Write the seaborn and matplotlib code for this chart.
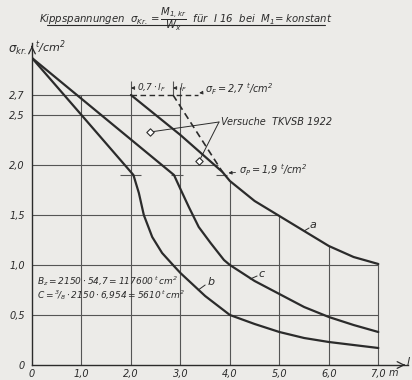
import numpy as np
import matplotlib
matplotlib.use("Agg")
import matplotlib.pyplot as plt
import seaborn as sns

# curve a (plastic straight part from sigma_F, then elastic branch)
x_a = [2.0, 3.0, 3.85, 4.0, 4.5, 5.0, 5.5, 6.0, 6.5, 7.0]
y_a = [2.70, 2.30, 1.93, 1.84, 1.64, 1.49, 1.34, 1.19, 1.08, 1.01]

# curve b
x_b = [0.0, 1.0, 2.05, 2.16, 2.26, 2.43, 2.63, 2.85, 3.0, 3.5, 4.0, 4.5, 5.0, 5.5, 6.0, 6.5, 7.0]
y_b = [3.07, 2.50, 1.90, 1.72, 1.50, 1.28, 1.12, 1.00, 0.92, 0.69, 0.50, 0.41, 0.33, 0.27, 0.23, 0.20, 0.17]

# curve c
x_c = [0.0, 2.87, 3.0, 3.17, 3.37, 3.61, 3.88, 4.0, 4.5, 5.0, 5.5, 6.0, 6.5, 7.0]
y_c = [3.07, 1.90, 1.76, 1.58, 1.38, 1.22, 1.05, 1.00, 0.84, 0.71, 0.58, 0.48, 0.40, 0.33]

# dashed line from l_F
x_f = [2.85, 3.85]
y_f = [2.70, 1.93]

# tests TKVSB 1922
x_test = [2.39, 3.38]
y_test = [2.33, 2.04]

x_ticks = [0, 1, 2, 3, 4, 5, 6, 7]
x_labels = ["0", "1,0", "2,0", "3,0", "4,0", "5,0", "6,0", "7,0"]
y_ticks = [0, 0.5, 1.0, 1.5, 2.0, 2.5, 2.7]
y_labels = ["0", "0,5", "1,0", "1,5", "2,0", "2,5", "2,7"]

sigma_F = 2.7
sigma_P = 1.9

INK = "#2b2b2b"
GRID = "#555555"
BG = "#ecebe8"

sns.set_theme(style="white", rc={"axes.facecolor": BG, "figure.facecolor": BG})
plt.rcParams["font.family"] = ["DejaVu Sans"]
plt.rcParams["mathtext.fontset"] = "custom"
plt.rcParams["mathtext.rm"] = "DejaVu Sans:italic"
plt.rcParams["mathtext.it"] = "DejaVu Sans:italic"
plt.rcParams["mathtext.bf"] = "DejaVu Sans:italic:bold"

fig = plt.figure(figsize=(4.12, 3.8), dpi=100)
ax = fig.add_axes([32 / 412, 15 / 380, 376 / 412, 322 / 380])
ax.set_xlim(0, 7.6)
ax.set_ylim(0, 3.22)

# grid, cut off at the upper curves like the drawing
a_at = lambda x: float(np.interp(x, x_a, y_a))
gw = 0.8
ax.hlines(2.7, 0, 2.0, color=GRID, lw=gw)
ax.hlines(2.5, 0, 3.0, color=GRID, lw=gw)
ax.hlines(2.0, 0, 3.75, color=GRID, lw=gw)
ax.hlines(1.5, 0, 5.0, color=GRID, lw=gw)
ax.hlines([1.0, 0.5], 0, 7.0, color=GRID, lw=gw)
ax.vlines(1.0, 0, 2.7, color=GRID, lw=gw)
ax.vlines(2.0, 0, 2.84, color=GRID, lw=gw)
ax.vlines(3.0, 0, 2.78, color=GRID, lw=gw)
ax.vlines(2.85, 2.7, 2.84, color=GRID, lw=gw)
for xv in [4.0, 5.0, 6.0, 7.0]:
    ax.vlines(xv, 0, a_at(xv), color=GRID, lw=gw)

# short marks at sigma_P
ax.hlines(sigma_P, 1.78, 2.2, color=GRID, lw=gw)
ax.hlines(sigma_P, 2.8, 3.06, color=GRID, lw=gw)
ax.hlines(sigma_P, 3.72, 3.95, color=GRID, lw=gw)

# sigma_F dashed level
ax.hlines(sigma_F, 2.0, 3.35, color=INK, lw=1.0, linestyles=(0, (4, 2.5)))

for xs, ys in [(x_a, y_a), (x_b, y_b), (x_c, y_c)]:
    sns.lineplot(x=xs, y=ys, ax=ax, color=INK, lw=1.6, sort=False, estimator=None)
sns.lineplot(x=x_f, y=y_f, ax=ax, color=INK, lw=1.2, sort=False, estimator=None,
             linestyle=(0, (4, 2.5)))

# test points with leader lines
for xt, yt in zip(x_test, y_test):
    ax.plot([xt, 3.78], [yt, 2.43], color=INK, lw=0.7)
sns.scatterplot(x=x_test, y=y_test, ax=ax, marker="D", s=14, color="white",
                edgecolor=INK, linewidth=0.8, zorder=5)

tk = dict(fontsize=7, style="italic", color=INK)
ax.text(3.82, 2.43, "Versuche  TKVSB 1922", ha="left", va="center", **tk)

arrow = dict(arrowstyle="-|>", color=INK, lw=0.6, mutation_scale=5, shrinkA=0, shrinkB=0)
ax.annotate(r"$0{,}7\cdot l_F$", xy=(2.0, 2.77), xytext=(2.12, 2.77),
            ha="left", va="center", arrowprops=arrow, fontsize=6.5, color=INK)
ax.annotate(r"$l_F$", xy=(2.85, 2.77), xytext=(2.97, 2.77),
            ha="left", va="center", arrowprops=arrow, fontsize=6.5, color=INK)
ax.annotate(r"$\sigma_F = 2{,}7\ ^{t}/cm^2$", xy=(3.38, 2.72), xytext=(3.5, 2.76),
            ha="left", va="center", arrowprops=arrow, fontsize=7, color=INK)
ax.annotate(r"$\sigma_P = 1{,}9\ ^{t}/cm^2$", xy=(3.97, 1.92), xytext=(4.18, 1.95),
            ha="left", va="center", arrowprops=arrow, fontsize=7, color=INK)

# curve names
ax.plot([5.5, 5.6], [a_at(5.5), 1.37], color=INK, lw=0.7)
ax.text(5.62, 1.40, "a", ha="left", va="center", fontsize=8, style="italic", color=INK)
ax.plot([3.36, 3.5], [0.75, 0.80], color=INK, lw=0.7)
ax.text(3.54, 0.83, "b", ha="left", va="center", fontsize=8, style="italic", color=INK)
ax.plot([4.41, 4.55], [0.86, 0.89], color=INK, lw=0.7)
ax.text(4.58, 0.91, "c", ha="left", va="center", fontsize=8, style="italic", color=INK)

ax.text(0.1, 0.84, r"$B_z = 2150\cdot 54{,}7 = 117600\,^{t}\,cm^2$",
        ha="left", va="center", fontsize=6.5, color=INK)
ax.text(0.1, 0.70, r"$C = ^{3}\!/_{8}\cdot 2150\cdot 6{,}954 = 5610\,^{t}\,cm^2$",
        ha="left", va="center", fontsize=6.5, color=INK)

# axes with arrow heads
for s in ["top", "right"]:
    ax.spines[s].set_visible(False)
for s in ["left", "bottom"]:
    ax.spines[s].set_color(INK)
    ax.spines[s].set_linewidth(1.0)
ax.annotate("", xy=(1.0, 0), xytext=(0.98, 0), xycoords="axes fraction",
            arrowprops=dict(arrowstyle="->", color=INK, lw=0.9))
ax.annotate("", xy=(0, 1.0), xytext=(0, 0.98), xycoords="axes fraction",
            arrowprops=dict(arrowstyle="->", color=INK, lw=0.9))

ax.set_xticks(x_ticks)
ax.set_xticklabels(x_labels)
ax.set_yticks(y_ticks)
ax.set_yticklabels(y_labels)
ax.tick_params(axis="both", length=0, labelsize=7, labelcolor=INK)
ax.tick_params(axis="x", pad=3)
ax.tick_params(axis="y", pad=5)
for lbl in ax.get_xticklabels() + ax.get_yticklabels():
    lbl.set_fontstyle("italic")
ax.text(7.2, -0.08, "m", ha="left", va="center", fontsize=7, style="italic", color=INK)

fig.text(408 / 412, 1 - 362 / 380, "l", ha="center", va="center", fontsize=8,
         style="italic", color=INK)
fig.text(8 / 412, 1 - 50 / 380, r"$\sigma_{kr.}$", ha="left", va="center",
         fontsize=8.5, color=INK)
fig.text(35 / 412, 1 - 47 / 380, r"$^{t}/cm^2$", ha="left", va="center",
         fontsize=8, color=INK)

# title, underlined by hand
fig.text(186 / 412, 1 - 19 / 380,
         r"Kippspannungen  $\sigma_{Kr.} = \dfrac{M_{1,kr}}{W_x}$  für  I 16  bei  $M_1$= konstant",
         ha="center", va="center", fontsize=7.3, style="italic", color=INK)
fig.add_artist(plt.Line2D([47 / 412, 325 / 412], [1 - 25 / 380, 1 - 25 / 380],
                          color=INK, lw=0.8))

fig.savefig("out.png", dpi=100, facecolor=BG)
